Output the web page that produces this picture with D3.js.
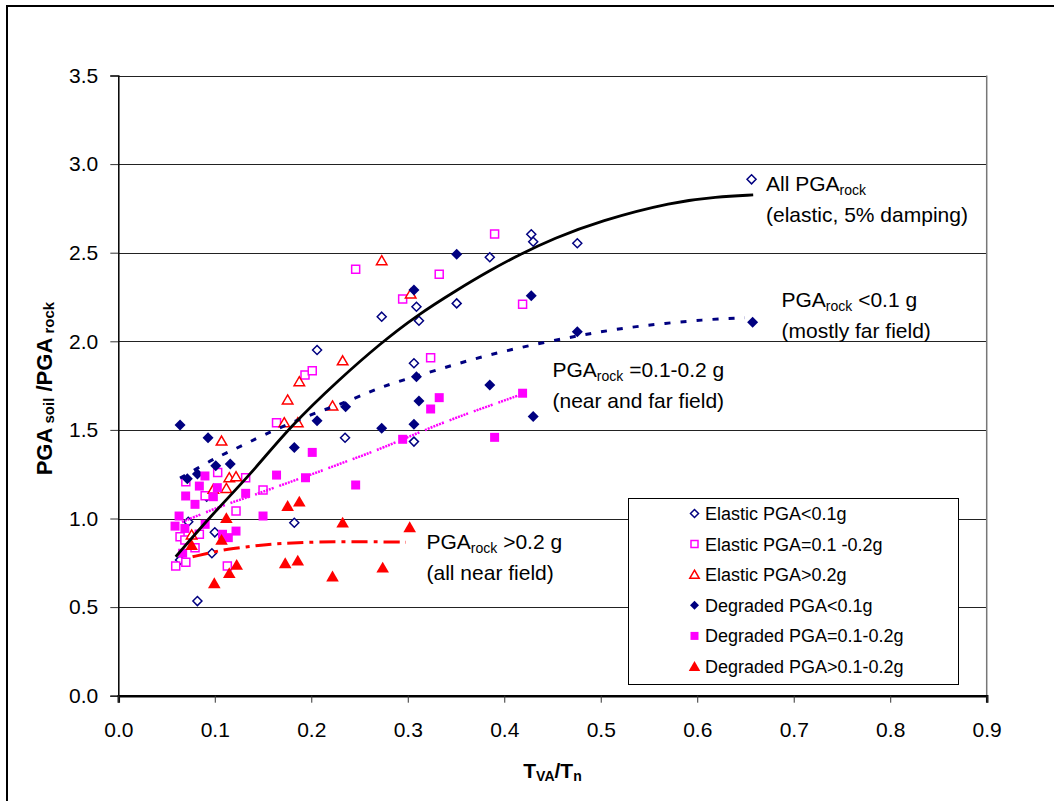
<!DOCTYPE html>
<html>
<head>
<meta charset="utf-8">
<script src="https://cdn.jsdelivr.net/npm/d3@7"></script>
<style>
  body { margin: 0; background: #fff; }
  text { font-family: "Liberation Sans", Arial, sans-serif; }
</style>
</head>
<body>
<div id="chart"></div>
<script>
// tick values
var xTicks = [0, 0.1, 0.2, 0.3, 0.4, 0.5, 0.6, 0.7, 0.8, 0.9];
var yTicks = [0, 0.5, 1.0, 1.5, 2.0, 2.5, 3.0, 3.5];

// scatter series [T_VA/T_n, PGA_soil/PGA_rock]
var elasticLow = [[0.064,0.766],[0.082,0.534],[0.097,0.804],[0.100,0.922],[0.0725,0.982],[0.0916,1.123],
  [0.1824,0.976],[0.206,1.951],[0.235,1.456],[0.273,2.139],[0.3064,1.876],[0.3064,1.434],[0.309,2.195],
  [0.3116,2.116],[0.3507,2.214],[0.385,2.474],[0.428,2.604],[0.430,2.562],[0.4757,2.553],[0.6563,2.914]];
var elasticMid = [[0.0595,0.732],[0.064,0.897],[0.069,0.879],[0.070,0.753],[0.0795,0.835],[0.084,0.911],
  [0.070,1.208],[0.090,1.129],[0.103,1.26],[0.113,0.732],[0.122,1.042],[0.132,1.23],[0.150,1.161],
  [0.164,1.541],[0.1935,1.81],[0.201,1.834],[0.246,2.406],[0.2947,2.239],[0.3237,1.907],[0.3326,2.378],
  [0.390,2.605],[0.419,2.209]];
var elasticHigh = [[0.076,0.907],[0.0985,1.165],[0.107,1.437],[0.112,1.17],[0.115,1.230],[0.122,1.236],
  [0.172,1.541],[0.186,1.541],[0.1755,1.669],[0.1876,1.772],[0.222,1.635],[0.2325,1.89],[0.273,2.455],
  [0.303,2.267]];
var degradedLow = [[0.064,1.527],[0.0715,1.225],[0.082,1.251],[0.093,1.456],[0.101,1.298],[0.116,1.308],
  [0.1824,1.40],[0.206,1.552],[0.2356,1.631],[0.273,1.509],[0.3064,1.532],[0.3064,2.289],[0.309,1.80],
  [0.3116,1.663],[0.3507,2.491],[0.385,1.753],[0.428,2.257],[0.430,1.575],[0.4757,2.054],[0.6574,2.107]];
var degradedMid = [[0.0588,0.957],[0.063,1.014],[0.0667,0.804],[0.069,0.944],[0.0698,1.127],[0.0795,1.08],
  [0.084,1.183],[0.0898,1.24],[0.090,0.967],[0.0985,1.123],[0.1026,1.174],[0.108,0.911],[0.114,0.892],
  [0.122,0.929],[0.132,1.142],[0.150,1.014],[0.164,1.245],[0.194,1.23],[0.201,1.373],[0.246,1.189],
  [0.2947,1.447],[0.3237,1.618],[0.3326,1.682],[0.390,1.458],[0.419,1.707]];
var degradedHigh = [[0.076,0.850],[0.0995,0.634],[0.107,0.879],[0.112,1.001],[0.115,0.691],[0.1227,0.738],
  [0.173,0.747],[0.1755,1.07],[0.186,0.762],[0.1876,1.095],[0.222,0.672],[0.2325,0.976],[0.274,0.722],
  [0.302,0.95]];

// fitted curves
var fitAll = [[0.0595,0.784],[0.095,1.01],[0.1365,1.245],[0.178,1.52],[0.23,1.79],[0.271,1.985],
  [0.309,2.145],[0.351,2.29],[0.385,2.40],[0.416,2.49],[0.451,2.58],[0.499,2.68],[0.575,2.788],[0.62,2.815],[0.658,2.826]];
var fitLow = [[0.064,1.228],[0.0847,1.292],[0.102,1.345],[0.119,1.387],[0.1365,1.433],[0.155,1.484],
  [0.207,1.603],[0.226,1.635],[0.261,1.716],[0.278,1.753],[0.33,1.838],[0.382,1.923],[0.437,1.989],
  [0.489,2.045],[0.54,2.088],[0.61,2.124],[0.649,2.133]];
var fitMid = [[0.066,0.98],[0.109,1.076],[0.136,1.123],[0.150,1.151],[0.1745,1.199],[0.2056,1.259],
  [0.24,1.330],[0.271,1.39],[0.333,1.537],[0.392,1.65],[0.42,1.705]];
var fitHigh = [[0.077,0.784],[0.095,0.807],[0.112,0.826],[0.14,0.845],[0.164,0.86],[0.223,0.871],
  [0.292,0.867],[0.298,0.866]];

var legendLabels = ["Elastic PGA<0.1g", "Elastic PGA=0.1 -0.2g", "Elastic PGA>0.2g",
  "Degraded PGA<0.1g", "Degraded PGA=0.1-0.2g", "Degraded PGA>0.1-0.2g"];

var width = 1054, height = 801;
var margin = {left: 118.3, top: 75.5, right: 986.7, bottom: 695.7};

var svg = d3.select("#chart").append("svg")
  .attr("width", width).attr("height", height);

// outer chart frame
svg.append("rect").attr("x", 7).attr("y", 6).attr("width", 1200).attr("height", 1000)
  .attr("fill", "none").attr("stroke", "#000").attr("stroke-width", 2);

var x = d3.scaleLinear().domain([0, 0.9]).range([margin.left, margin.right]);
var y = d3.scaleLinear().domain([0, 3.5]).range([margin.bottom, margin.top]);

// gridlines
svg.append("g").selectAll("line").data(yTicks.slice(1)).enter().append("line")
  .attr("x1", margin.left).attr("x2", margin.right)
  .attr("y1", function(d){ return Math.round(y(d)) + 0.5; })
  .attr("y2", function(d){ return Math.round(y(d)) + 0.5; })
  .attr("stroke", "#222").attr("stroke-width", 1);
svg.append("line").attr("x1", margin.right).attr("x2", margin.right)
  .attr("y1", margin.top).attr("y2", margin.bottom)
  .attr("stroke", "#777").attr("stroke-width", 1.5);

// axes
var yAxis = svg.append("g").attr("transform", "translate(" + margin.left + ",0)")
  .call(d3.axisLeft(y).tickValues(yTicks).tickSize(8).tickPadding(12).tickFormat(d3.format(".1f")));
var xAxis = svg.append("g").attr("transform", "translate(0," + margin.bottom + ")")
  .call(d3.axisBottom(x).tickValues(xTicks).tickSize(7).tickPadding(19).tickFormat(d3.format(".1f")));
[xAxis, yAxis].forEach(function(a){
  a.selectAll("text").style("font-size", "21px").attr("fill", "#000");
  a.selectAll(".tick line").attr("stroke", "#333");
});
yAxis.select(".domain").attr("stroke", "#000").attr("stroke-width", 1.5);
xAxis.select(".domain").attr("stroke", "#000").attr("stroke-width", 2.5);

// marker shapes
function diamond(r){ return "M0," + (-r) + "L" + r + ",0L0," + r + "L" + (-r) + ",0Z"; }
function square(r){ return "M" + (-r) + "," + (-r) + "H" + r + "V" + r + "H" + (-r) + "Z"; }
function triangle(r){ return "M0," + (-r) + "L" + (r * 1.05) + "," + (r * 0.8) + "L" + (-r * 1.05) + "," + (r * 0.8) + "Z"; }

var series = [
  {data: elasticLow,   shape: diamond(4.5),  fill: "#fff",    stroke: "#000080", sw: 1.5, leg: diamond(4)},
  {data: elasticMid,   shape: square(4),     fill: "#fff",    stroke: "#ff00ff", sw: 1.5, leg: square(3.5)},
  {data: elasticHigh,  shape: triangle(5),   fill: "#fff",    stroke: "#ff0000", sw: 1.5, leg: triangle(4.5)},
  {data: degradedLow,  shape: diamond(5.5),  fill: "#000080", stroke: "none",    sw: 0,   leg: diamond(4.5)},
  {data: degradedMid,  shape: square(4.5),   fill: "#ff00ff", stroke: "none",    sw: 0,   leg: square(4)},
  {data: degradedHigh, shape: triangle(6),   fill: "#ff0000", stroke: "none",    sw: 0,   leg: triangle(5.5)}
];

series.forEach(function(s){
  svg.append("g").selectAll("path").data(s.data).enter().append("path")
    .attr("d", s.shape)
    .attr("transform", function(d){ return "translate(" + x(d[0]) + "," + y(d[1]) + ")"; })
    .attr("fill", s.fill).attr("stroke", s.stroke).attr("stroke-width", s.sw);
});

// fitted curves
var line = d3.line().x(function(d){ return x(d[0]); }).y(function(d){ return y(d[1]); })
  .curve(d3.curveBasis);
var fits = [
  {data: fitHigh, color: "#ff0000", w: 3,   dash: "16,6,4,6"},
  {data: fitMid,  color: "#ff00ff", w: 2.5, dash: "2,1,2,1,2,1,2,1,2,1,2,1,2,6"},
  {data: fitLow,  color: "#000080", w: 3,   dash: "6,10"},
  {data: fitAll,  color: "#000",    w: 2.8, dash: null}
];
fits.forEach(function(f){
  svg.append("path").datum(f.data).attr("d", line)
    .attr("fill", "none").attr("stroke", f.color).attr("stroke-width", f.w)
    .attr("stroke-dasharray", f.dash);
});

// annotations
function label(px, py, main, sub, rest, second){
  var t = svg.append("text").attr("x", px).attr("y", py).style("font-size", "21px");
  t.append("tspan").text(main);
  t.append("tspan").text(sub).style("font-size", "14px").attr("dy", 4);
  t.append("tspan").text(rest).attr("dy", -4);
  svg.append("text").attr("x", px).attr("y", py + 31).style("font-size", "21px").text(second);
}
label(766, 190.5, "All PGA", "rock", "", "(elastic, 5% damping)");
label(781.5, 306.5, "PGA", "rock", " <0.1 g", "(mostly far field)");
label(552.5, 377, "PGA", "rock", " =0.1-0.2 g", "(near and far field)");
label(426.5, 549, "PGA", "rock", " >0.2 g", "(all near field)");

// axis titles
var xt = svg.append("text").attr("x", (margin.left + margin.right) / 2).attr("y", 778)
  .attr("text-anchor", "middle").style("font-size", "21px").style("font-weight", "bold");
xt.append("tspan").text("T");
xt.append("tspan").text("VA").style("font-size", "14px").attr("dy", 3);
xt.append("tspan").text("/T").attr("dy", -3);
xt.append("tspan").text("n").style("font-size", "14px").attr("dy", 3);

var yt = svg.append("text").attr("transform", "translate(52," + ((margin.top + margin.bottom) / 2 + 3) + ") rotate(-90)")
  .attr("text-anchor", "middle").style("font-size", "22px").style("font-weight", "bold");
yt.append("tspan").text("PGA");
yt.append("tspan").text(" soil").style("font-size", "15px").attr("dy", 2);
yt.append("tspan").text(" /PGA").attr("dy", -2);
yt.append("tspan").text(" rock").style("font-size", "15px").attr("dy", 2);

// legend
var legend = svg.append("g");
legend.append("rect").attr("x", 628.5).attr("y", 498.5).attr("width", 330).attr("height", 186)
  .attr("fill", "#fff").attr("stroke", "#000").attr("stroke-width", 1);
legendLabels.forEach(function(name, i){
  var s = series[i];
  var cy = 513.5 + i * 30.6;
  legend.append("path").attr("d", s.leg).attr("transform", "translate(694.5," + cy + ")")
    .attr("fill", s.fill).attr("stroke", s.stroke).attr("stroke-width", s.sw);
  legend.append("text").attr("x", 705).attr("y", cy + 6.5).style("font-size", "18px").text(name);
});
</script>
</body>
</html>
